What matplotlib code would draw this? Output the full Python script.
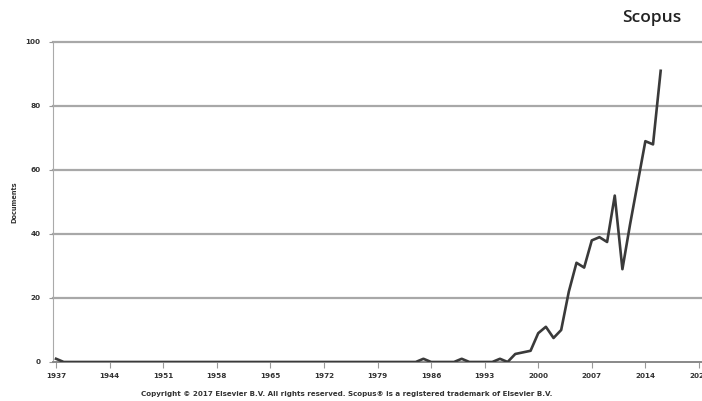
import numpy as np
import matplotlib.pyplot as plt

# documents per year
years = np.arange(1937, 2017)
docs = np.zeros(len(years))
nonzero = {
    1937: 1, 1985: 1, 1990: 1, 1994: 0, 1995: 1, 1996: 0,
    1997: 2.5, 1998: 3, 1999: 3.5, 2000: 9, 2001: 11, 2002: 7.5,
    2003: 10, 2004: 22, 2005: 31, 2006: 29.5, 2007: 38, 2008: 39,
    2009: 37.5, 2010: 52, 2011: 29, 2012: 43, 2013: 56, 2014: 69,
    2015: 68, 2016: 91,
}
for yr, v in nonzero.items():
    docs[yr - 1937] = v

xticks = [1937, 1944, 1951, 1958, 1965, 1972, 1979, 1986, 1993, 2000, 2007, 2014, 2021]
yticks = [0, 20, 40, 60, 80, 100]

fig = plt.figure(figsize=(7.02, 4.01), dpi=100)
ax = fig.add_axes([0.0755, 0.0973, 0.9245, 0.798])

for y in yticks[1:]:
    ax.axhline(y, color='#a8a8a8', lw=1.6, zorder=1, clip_on=False)
ax.plot(years, docs, color='#3a3a3a', lw=1.9, zorder=3)

ax.set_xlim(1936.6, 2021.4)
ax.set_ylim(0, 100)
ax.set_xticks(xticks)
ax.set_yticks(yticks)
ax.set_xticklabels([str(t) for t in xticks], fontsize=5.2, fontweight='bold', color='#333333')
ax.set_yticklabels([str(t) for t in yticks], fontsize=5.2, fontweight='bold', color='#333333')
ax.tick_params(axis='x', length=4, color='#999999', pad=4)
ax.tick_params(axis='y', length=3, color='#999999', pad=6)

for s in ['top', 'right']:
    ax.spines[s].set_visible(False)
ax.spines['left'].set_color('#aaaaaa')
ax.spines['bottom'].set_color('#888888')
ax.spines['bottom'].set_linewidth(1.4)

ax.set_ylabel('Documents', fontsize=4.8, fontweight='bold', color='#333333', labelpad=6)

fig.text(0.929, 0.955, 'Scopus', fontsize=12.5, family='Open Sans', fontweight='semibold',
         color='#222222', ha='center', va='center')
fig.text(0.494, 0.010, 'Copyright \u00a9 2017 Elsevier B.V. All rights reserved. Scopus\u00ae is a registered trademark of Elsevier B.V.',
         fontsize=5.1, fontweight='bold', color='#333333', ha='center', va='bottom')

fig.savefig('out.png', dpi=100)
